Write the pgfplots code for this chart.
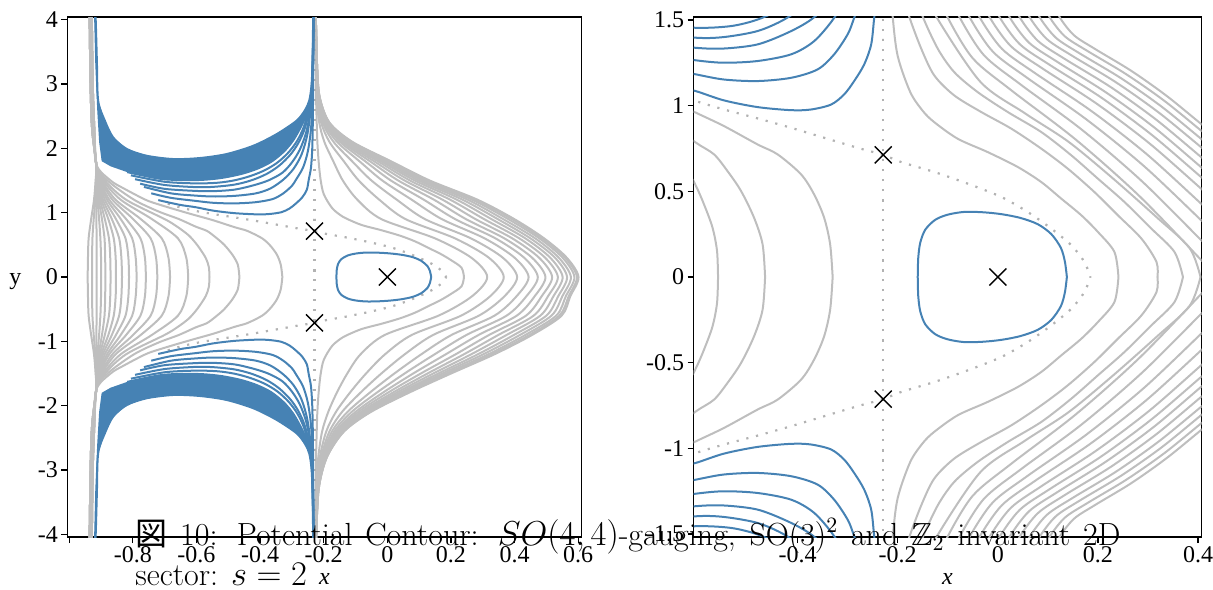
\documentclass[border=0pt]{standalone}
\usepackage{amssymb}
\usepackage{fontspec}
\usepackage{pgfplots}
\usepackage{pgfplotstable}
\pgfplotsset{compat=1.18}
\newfontfamily\tickfont{Liberation Serif}
\newfontfamily\cjk{Noto Sans CJK JP}
\definecolor{cgrey}{RGB}{190,190,190}
\definecolor{cblue}{RGB}{70,130,180}
\definecolor{cdot}{RGB}{178,178,178}
\newcommand{\symt}[2]{\addplot[#1] table {#2};\addplot[#1] table[y expr=-\thisrow{y}] {#2};}
\pgfplotsset{
 gline/.style={cgrey, line width=1pt, smooth, tension=0.5},
 bline/.style={cblue, line width=1pt, smooth, tension=0.5},
 dline/.style={cdot, line width=1.1pt, dash pattern=on 1.1pt off 3.9pt, smooth, tension=0.5},
 myaxis/.style={scale only axis, axis line style={line width=0.7pt}, tick align=outside,
  xtick pos=left, ytick pos=left, major tick length=3pt, tick style={black, line width=0.6pt},
  ticklabel style={font=\tickfont\fontsize{12}{14}\selectfont},
  xticklabel style={inner sep=1.5pt},
  yticklabel style={inner sep=1.5pt},
  /pgf/number format/assume math mode=true,
  every axis x label/.style={at={(axis description cs:0.5,0)}, anchor=base, yshift=-23.5pt, font=\tickfont\itshape\fontsize{12}{14}\selectfont},
  every axis y label/.style={at={(axis description cs:0,0.5)}, anchor=center, xshift=-26pt, yshift=-2.5pt, font=\tickfont\fontsize{12}{14}\selectfont}}
}
% ---------- left-family contour tables (upper half; lower half is mirrored) ----------
\pgfplotstableread[row sep=\\]{x y\\-0.942 0\\-0.941 0.3\\-0.939 0.6\\-0.931 0.9\\-0.922 1.2\\-0.917 1.5\\-0.915 1.75\\-0.928 2.3\\-0.933 3.0\\-0.936 4.1\\}\tCa
\pgfplotstableread[row sep=\\]{x y\\-0.928 0\\-0.928 0.3\\-0.927 0.6\\-0.923 0.9\\-0.918 1.2\\-0.916 1.5\\-0.915 1.75\\-0.928 2.3\\-0.933 3.0\\-0.936 4.1\\}\tCb
\pgfplotstableread[row sep=\\]{x y\\-0.914 0\\-0.914 0.6\\-0.915 1.2\\-0.915 1.75\\-0.928 2.3\\-0.933 3.0\\-0.936 4.1\\}\tCc
\pgfplotstableread[row sep=\\]{x y\\-0.900 0\\-0.900 0.3\\-0.902 0.6\\-0.906 0.9\\-0.911 1.2\\-0.914 1.5\\-0.915 1.75\\-0.928 2.3\\-0.933 3.0\\-0.936 4.1\\}\tCd
\pgfplotstableread[row sep=\\]{x y\\-0.886 0\\-0.887 0.3\\-0.889 0.6\\-0.897 0.9\\-0.907 1.2\\-0.913 1.5\\-0.915 1.75\\-0.928 2.3\\-0.933 3.0\\-0.936 4.1\\}\tCe
\pgfplotstableread[row sep=\\]{x y\\-0.870 0\\-0.871 0.3\\-0.875 0.6\\-0.888 0.9\\-0.903 1.2\\-0.912 1.5\\-0.915 1.75\\-0.928 2.3\\-0.933 3.0\\-0.936 4.1\\}\tCf
\pgfplotstableread[row sep=\\]{x y\\-0.853 0\\-0.854 0.3\\-0.860 0.6\\-0.877 0.9\\-0.899 1.2\\-0.910 1.5\\-0.915 1.75\\-0.925 2.3\\-0.930 3.0\\-0.933 4.1\\}\tCg
\pgfplotstableread[row sep=\\]{x y\\-0.834 0\\-0.836 0.3\\-0.843 0.6\\-0.866 0.9\\-0.894 1.2\\-0.909 1.5\\-0.915 1.75\\-0.925 2.3\\-0.930 3.0\\-0.933 4.1\\}\tCh
\pgfplotstableread[row sep=\\]{x y\\-0.812 0\\-0.814 0.3\\-0.823 0.6\\-0.853 0.9\\-0.888 1.2\\-0.907 1.5\\-0.915 1.75\\-0.925 2.3\\-0.930 3.0\\-0.933 4.1\\}\tCi
\pgfplotstableread[row sep=\\]{x y\\-0.788 0\\-0.791 0.3\\-0.802 0.6\\-0.838 0.9\\-0.881 1.2\\-0.905 1.5\\-0.915 1.75\\-0.925 2.3\\-0.930 3.0\\-0.933 4.1\\}\tCj
\pgfplotstableread[row sep=\\]{x y\\-0.759 0\\-0.762 0.3\\-0.776 0.6\\-0.821 0.9\\-0.874 1.2\\-0.903 1.5\\-0.915 1.75\\-0.925 2.3\\-0.930 3.0\\-0.933 4.1\\}\tCk
\pgfplotstableread[row sep=\\]{x y\\-0.723 0\\-0.727 0.3\\-0.744 0.6\\-0.799 0.9\\-0.864 1.2\\-0.900 1.5\\-0.915 1.75\\-0.925 2.3\\-0.930 3.0\\-0.933 4.1\\}\tCl
\pgfplotstableread[row sep=\\]{x y\\-0.683 0\\-0.688 0.3\\-0.709 0.6\\-0.775 0.9\\-0.854 1.2\\-0.897 1.5\\-0.915 1.75\\-0.921 2.3\\-0.926 3.0\\-0.929 4.1\\}\tCm
\pgfplotstableread[row sep=\\]{x y\\-0.626 0\\-0.632 0.3\\-0.658 0.6\\-0.740 0.9\\-0.838 1.2\\-0.893 1.5\\-0.915 1.75\\-0.921 2.3\\-0.926 3.0\\-0.929 4.1\\}\tCn
\pgfplotstableread[row sep=\\]{x y\\-0.559 0\\-0.561 0.152\\-0.570 0.288\\-0.587 0.424\\-0.603 0.531\\-0.625 0.65\\-0.660 0.78\\-0.700 0.9\\-0.821 1.2\\-0.888 1.5\\-0.915 1.75\\-0.921 2.3\\-0.926 3.0\\-0.929 4.1\\}\tCo
\pgfplotstableread[row sep=\\]{x y\\-0.465 0\\-0.470 0.191\\-0.487 0.346\\-0.513 0.502\\-0.540 0.618\\-0.567 0.716\\-0.603 0.784\\-0.655 0.9\\-0.720 1.02\\-0.796 1.2\\-0.880 1.5\\-0.915 1.75\\-0.921 2.3\\-0.926 3.0\\-0.929 4.1\\}\tCp
\pgfplotstableread[row sep=\\]{x y\\-0.330 0\\-0.335 0.191\\-0.347 0.346\\-0.367 0.482\\-0.393 0.599\\-0.440 0.716\\-0.480 0.774\\-0.547 0.881\\-0.603 0.959\\-0.660 1.04\\-0.720 1.13\\-0.760 1.2\\-0.830 1.38\\-0.870 1.5\\-0.915 1.75\\-0.921 2.3\\-0.926 3.0\\-0.929 4.1\\}\tCq
% ---------- blue contours ----------
\pgfplotstableread[row sep=\\]{x y\\-0.720 1.195\\-0.652 1.121\\-0.603 1.085\\-0.547 1.031\\-0.480 0.992\\-0.413 0.974\\-0.373 0.978\\-0.333 1.007\\-0.307 1.066\\-0.287 1.144\\-0.267 1.241\\-0.253 1.358\\-0.247 1.513\\-0.240 1.7\\-0.236 2.0\\-0.234 2.5\\-0.233 3.2\\-0.232 4.1\\}\tBa
\pgfplotstableread[row sep=\\]{x y\\-0.742 1.30\\-0.680 1.23\\-0.603 1.183\\-0.547 1.153\\-0.480 1.144\\-0.413 1.163\\-0.360 1.212\\-0.327 1.30\\-0.300 1.417\\-0.287 1.513\\-0.265 1.7\\-0.250 1.95\\-0.240 2.3\\-0.235 2.8\\-0.233 3.4\\-0.232 4.1\\}\tBb
\pgfplotstableread[row sep=\\]{x y\\-0.765 1.40\\-0.680 1.30\\-0.603 1.265\\-0.547 1.251\\-0.480 1.261\\-0.413 1.30\\-0.367 1.377\\-0.327 1.513\\-0.295 1.68\\-0.270 1.9\\-0.252 2.2\\-0.241 2.6\\-0.235 3.1\\-0.232 4.1\\}\tBc
\pgfplotstableread[row sep=\\]{x y\\-0.777 1.45\\-0.700 1.37\\-0.603 1.338\\-0.547 1.334\\-0.480 1.358\\-0.420 1.426\\-0.373 1.503\\-0.330 1.62\\-0.300 1.78\\-0.275 1.98\\-0.255 2.25\\-0.242 2.6\\-0.235 3.1\\-0.232 4.1\\}\tBd
\pgfplotstableread[row sep=\\]{x y\\-0.793 1.52\\-0.700 1.43\\-0.603 1.397\\-0.547 1.401\\-0.480 1.436\\-0.427 1.503\\-0.380 1.6\\-0.340 1.73\\-0.305 1.9\\-0.280 2.08\\-0.260 2.3\\-0.245 2.6\\-0.236 3.0\\-0.232 4.1\\}\tBe
\pgfplotstableread[row sep=\\]{x y\\-0.806 1.58\\-0.700 1.48\\-0.603 1.455\\-0.533 1.465\\-0.480 1.503\\-0.430 1.57\\-0.385 1.66\\-0.345 1.78\\-0.310 1.94\\-0.283 2.12\\-0.262 2.34\\-0.247 2.62\\-0.237 3.0\\-0.232 4.1\\}\tBf
\pgfplotstableread[row sep=\\]{x y\\-0.818 1.63\\-0.720 1.53\\-0.650 1.505\\-0.580 1.51\\-0.520 1.54\\-0.460 1.6\\-0.410 1.68\\-0.365 1.79\\-0.325 1.95\\-0.295 2.13\\-0.270 2.35\\-0.252 2.55\\-0.240 2.8\\-0.235 3.1\\-0.233 3.5\\-0.232 4.1\\}\tBg
\pgfplotstableread[row sep=\\]{x y\\-0.920 4.1\\-0.917 4.04\\-0.913 3.36\\-0.909 2.74\\-0.888 2.43\\-0.862 2.17\\-0.819 1.99\\-0.757 1.885\\-0.673 1.833\\-0.589 1.849\\-0.505 1.911\\-0.421 2.04\\-0.348 2.22\\-0.285 2.43\\-0.258 2.6\\-0.245 2.75\\-0.238 3.0\\-0.235 3.4\\-0.233 4.1\\}\tU
\pgfplotstableread[row sep=\\]{x y\\-0.920 4.1\\-0.917 4.04\\-0.913 3.36\\-0.909 2.74\\-0.888 2.43\\-0.862 2.17\\-0.819 1.99\\-0.757 1.885\\-0.673 1.833\\-0.589 1.849\\-0.505 1.911\\-0.421 2.04\\-0.348 2.22\\-0.285 2.43\\-0.258 2.6\\-0.245 2.75\\-0.238 3.0\\-0.235 3.4\\-0.233 4.1\\-0.232 4.1\\-0.233 3.5\\-0.235 3.1\\-0.240 2.8\\-0.252 2.55\\-0.270 2.35\\-0.295 2.13\\-0.325 1.95\\-0.365 1.79\\-0.410 1.68\\-0.460 1.6\\-0.520 1.54\\-0.580 1.51\\-0.650 1.505\\-0.720 1.53\\-0.818 1.63\\-0.870 1.72\\-0.898 1.80\\-0.906 2.1\\-0.912 2.6\\-0.918 3.3\\-0.922 4.1\\}\tFill
\pgfplotstableread[row sep=\\]{x y\\0.138 0\\0.134 0.09\\0.126 0.170\\0.107 0.250\\0.080 0.308\\0.045 0.345\\0.007 0.367\\-0.030 0.378\\-0.067 0.380\\-0.100 0.364\\-0.125 0.334\\-0.145 0.276\\-0.155 0.200\\-0.159 0.110\\-0.160 0\\}\tLoop
\pgfplotstableread[row sep=\\]{x y\\-0.690 1.14\\-0.650 1.08\\-0.603 1.027\\-0.547 0.978\\-0.480 0.926\\-0.413 0.871\\-0.347 0.813\\-0.280 0.754\\-0.229 0.713\\-0.193 0.671\\-0.127 0.613\\-0.060 0.545\\0.007 0.467\\0.060 0.379\\0.107 0.282\\0.147 0.185\\0.173 0.088\\0.185 0\\}\tDot
% ---------- right-hand grey contours ----------
\pgfplotstableread[row sep=\\]{x y\\0.241 0\\0.233 0.146\\0.200 0.263\\0.167 0.360\\0.127 0.457\\0.087 0.554\\0.040 0.642\\-0.020 0.729\\-0.080 0.807\\-0.127 0.904\\-0.150 0.970\\-0.175 1.08\\-0.200 1.29\\-0.210 1.52\\-0.216 1.8\\-0.220 2.1\\-0.222 2.4\\-0.224 2.8\\-0.225 3.3\\-0.226 4.1\\}\tGa
\pgfplotstableread[row sep=\\]{x y\\0.319 0\\0.317 0.088\\0.287 0.224\\0.240 0.360\\0.193 0.496\\0.140 0.632\\0.087 0.749\\0.027 0.866\\-0.033 0.963\\-0.087 1.060\\-0.127 1.177\\-0.153 1.333\\-0.177 1.520\\-0.183 1.6\\}\tGb
\pgfplotstableread[row sep=\\]{x y\\0.370 0\\0.353 0.146\\0.307 0.282\\0.253 0.438\\0.200 0.574\\0.147 0.710\\0.087 0.846\\0.020 0.963\\-0.040 1.079\\-0.087 1.196\\-0.120 1.333\\-0.150 1.520\\-0.156 1.6\\}\tGc
\pgfplotstableread[row sep=\\]{x y\\0.405 0\\0.383 0.170\\0.317 0.350\\0.229 0.578\\0.141 0.790\\0.053 0.958\\-0.035 1.140\\-0.123 1.520\\-0.129 1.6\\}\tGd
\pgfplotstableread[row sep=\\]{x y\\0.420 0.055\\0.410 0.088\\0.282 0.475\\0.155 0.804\\0.027 1.090\\-0.050 1.277\\-0.101 1.520\\-0.107 1.6\\}\tGe
\pgfplotstableread[row sep=\\]{x y\\0.420 0.175\\0.410 0.204\\0.288 0.559\\0.167 0.862\\0.045 1.125\\-0.028 1.296\\-0.077 1.520\\-0.083 1.6\\}\tGf
\pgfplotstableread[row sep=\\]{x y\\0.420 0.295\\0.410 0.321\\0.293 0.645\\0.177 0.920\\0.060 1.160\\-0.010 1.316\\-0.057 1.520\\-0.063 1.6\\}\tGg
\pgfplotstableread[row sep=\\]{x y\\0.420 0.394\\0.410 0.418\\0.298 0.716\\0.187 0.969\\0.075 1.189\\0.008 1.333\\-0.037 1.520\\-0.043 1.6\\}\tGh
\pgfplotstableread[row sep=\\]{x y\\0.420 0.484\\0.410 0.506\\0.303 0.780\\0.197 1.013\\0.090 1.216\\0.026 1.348\\-0.017 1.520\\-0.023 1.6\\}\tGi
\pgfplotstableread[row sep=\\]{x y\\0.420 0.553\\0.410 0.574\\0.308 0.829\\0.207 1.047\\0.105 1.236\\0.044 1.359\\0.003 1.520\\-0.003 1.6\\}\tGj
\pgfplotstableread[row sep=\\]{x y\\0.420 0.612\\0.410 0.632\\0.313 0.872\\0.217 1.076\\0.120 1.254\\0.062 1.369\\0.023 1.520\\0.017 1.6\\}\tGk
\pgfplotstableread[row sep=\\]{x y\\0.420 0.672\\0.410 0.691\\0.318 0.915\\0.227 1.106\\0.135 1.271\\0.080 1.379\\0.043 1.520\\0.037 1.6\\}\tGl
\pgfplotstableread[row sep=\\]{x y\\0.420 0.731\\0.410 0.749\\0.323 0.957\\0.237 1.135\\0.150 1.289\\0.098 1.389\\0.063 1.520\\0.057 1.6\\}\tGm
\pgfplotstableread[row sep=\\]{x y\\0.420 0.781\\0.410 0.798\\0.328 0.993\\0.247 1.159\\0.165 1.303\\0.116 1.397\\0.083 1.520\\0.077 1.6\\}\tGn
\pgfplotstableread[row sep=\\]{x y\\0.420 0.830\\0.410 0.846\\0.333 1.028\\0.257 1.183\\0.180 1.318\\0.134 1.405\\0.103 1.520\\0.097 1.6\\}\tGo
\pgfplotstableread[row sep=\\]{x y\\0.420 0.870\\0.410 0.885\\0.338 1.056\\0.267 1.203\\0.195 1.330\\0.152 1.412\\0.123 1.520\\0.117 1.6\\}\tGp
\begin{document}
\begin{tikzpicture}
\path[use as bounding box] (0pt,0pt) rectangle (606.5pt,-294.5pt);
% ================= LEFT PANEL =================
\begin{axis}[myaxis, at={(33.65pt,-268.5pt)}, anchor=south west, width=257.2pt, height=260pt,
 xmin=-1.006, xmax=0.611, ymin=-4.04, ymax=4.04,
 xtick={-1,-0.8,-0.6,-0.4,-0.2,0,0.2,0.4,0.6}, xticklabels={,-0.8,-0.6,-0.4,-0.2,0,0.2,0.4,0.6},
 ytick={-4,-3,-2,-1,0,1,2,3,4}, yticklabels={-4,-3,-2,-1,0,1,2,3,4},
 xlabel={x}, ylabel={y}]
\symt{gline}{\tCa}\symt{gline}{\tCb}\symt{gline}{\tCc}\symt{gline}{\tCd}\symt{gline}{\tCe}
\symt{gline}{\tCf}\symt{gline}{\tCg}\symt{gline}{\tCh}\symt{gline}{\tCi}\symt{gline}{\tCj}
\symt{gline}{\tCk}\symt{gline}{\tCl}\symt{gline}{\tCm}\symt{gline}{\tCn}\symt{gline}{\tCo}
\symt{gline}{\tCp}\symt{gline}{\tCq}
\symt{gline}{\tGa}
\addplot[gline] coordinates {(-0.226,4.1)(-0.224,3.3)(-0.222,2.8)(-0.214,2.4)(-0.198,2.1)(-0.170,1.8)(-0.140,1.5)(-0.094,1.2)(-0.019,0.9)(0.150,0.6)(0.264,0.3)(0.314,0)(0.266,-0.3)(0.161,-0.6)(-0.008,-0.9)(-0.084,-1.2)(-0.126,-1.5)(-0.159,-1.8)(-0.186,-2.1)(-0.205,-2.4)(-0.217,-2.8)(-0.223,-3.3)(-0.226,-4.1)};
\addplot[gline] coordinates {(-0.226,4.1)(-0.224,3.3)(-0.220,2.8)(-0.208,2.4)(-0.182,2.1)(-0.137,1.8)(-0.090,1.5)(-0.025,1.2)(0.057,0.9)(0.213,0.6)(0.319,0.3)(0.366,0)(0.323,-0.3)(0.232,-0.6)(0.077,-0.9)(-0.007,-1.2)(-0.067,-1.5)(-0.118,-1.8)(-0.162,-2.1)(-0.192,-2.4)(-0.212,-2.8)(-0.222,-3.3)(-0.225,-4.1)};
\addplot[gline] coordinates {(-0.226,4.1)(-0.223,3.3)(-0.219,2.8)(-0.203,2.4)(-0.169,2.1)(-0.111,1.8)(-0.050,1.5)(0.030,1.2)(0.118,0.9)(0.263,0.6)(0.363,0.3)(0.408,0)(0.368,-0.3)(0.288,-0.6)(0.144,-0.9)(0.055,-1.2)(-0.019,-1.5)(-0.085,-1.8)(-0.143,-2.1)(-0.182,-2.4)(-0.208,-2.8)(-0.221,-3.3)(-0.225,-4.1)};
\addplot[gline] coordinates {(-0.225,4.1)(-0.223,3.3)(-0.218,2.8)(-0.199,2.4)(-0.158,2.1)(-0.088,1.8)(-0.016,1.5)(0.077,1.2)(0.171,0.9)(0.306,0.6)(0.400,0.3)(0.444,0)(0.406,-0.3)(0.337,-0.6)(0.202,-0.9)(0.107,-1.2)(0.022,-1.5)(-0.056,-1.8)(-0.126,-2.1)(-0.174,-2.4)(-0.205,-2.8)(-0.220,-3.3)(-0.225,-4.1)};
\addplot[gline] coordinates {(-0.225,4.1)(-0.222,3.3)(-0.217,2.8)(-0.196,2.4)(-0.149,2.1)(-0.070,1.8)(0.011,1.5)(0.115,1.2)(0.213,0.9)(0.340,0.6)(0.430,0.3)(0.473,0)(0.437,-0.3)(0.375,-0.6)(0.249,-0.9)(0.149,-1.2)(0.054,-1.5)(-0.034,-1.8)(-0.113,-2.1)(-0.167,-2.4)(-0.202,-2.8)(-0.219,-3.3)(-0.225,-4.1)};
\addplot[gline] coordinates {(-0.225,4.1)(-0.222,3.3)(-0.216,2.8)(-0.194,2.4)(-0.142,2.1)(-0.055,1.8)(0.034,1.5)(0.147,1.2)(0.247,0.9)(0.368,0.6)(0.455,0.3)(0.497,0)(0.463,-0.3)(0.407,-0.6)(0.287,-0.9)(0.184,-1.2)(0.081,-1.5)(-0.015,-1.8)(-0.101,-2.1)(-0.161,-2.4)(-0.200,-2.8)(-0.219,-3.3)(-0.225,-4.1)};
\addplot[gline] coordinates {(-0.225,4.1)(-0.222,3.3)(-0.216,2.8)(-0.191,2.4)(-0.136,2.1)(-0.042,1.8)(0.054,1.5)(0.174,1.2)(0.277,0.9)(0.393,0.6)(0.477,0.3)(0.518,0)(0.485,-0.3)(0.436,-0.6)(0.320,-0.9)(0.215,-1.2)(0.105,-1.5)(0.001,-1.8)(-0.092,-2.1)(-0.156,-2.4)(-0.198,-2.8)(-0.218,-3.3)(-0.224,-4.1)};
\addplot[gline] coordinates {(-0.225,4.1)(-0.222,3.3)(-0.215,2.8)(-0.189,2.4)(-0.130,2.1)(-0.030,1.8)(0.071,1.5)(0.198,1.2)(0.304,0.9)(0.415,0.6)(0.496,0.3)(0.536,0)(0.505,-0.3)(0.460,-0.6)(0.349,-0.9)(0.241,-1.2)(0.126,-1.5)(0.016,-1.8)(-0.083,-2.1)(-0.152,-2.4)(-0.196,-2.8)(-0.218,-3.3)(-0.224,-4.1)};
\addplot[gline] coordinates {(-0.225,4.1)(-0.222,3.3)(-0.215,2.8)(-0.188,2.4)(-0.125,2.1)(-0.020,1.8)(0.086,1.5)(0.219,1.2)(0.327,0.9)(0.434,0.6)(0.512,0.3)(0.551,0)(0.522,-0.3)(0.481,-0.6)(0.375,-0.9)(0.264,-1.2)(0.144,-1.5)(0.028,-1.8)(-0.076,-2.1)(-0.148,-2.4)(-0.195,-2.8)(-0.217,-3.3)(-0.224,-4.1)};
\addplot[gline] coordinates {(-0.225,4.1)(-0.221,3.3)(-0.214,2.8)(-0.186,2.4)(-0.121,2.1)(-0.012,1.8)(0.099,1.5)(0.237,1.2)(0.347,0.9)(0.450,0.6)(0.527,0.3)(0.565,0)(0.537,-0.3)(0.500,-0.6)(0.398,-0.9)(0.285,-1.2)(0.160,-1.5)(0.039,-1.8)(-0.070,-2.1)(-0.145,-2.4)(-0.193,-2.8)(-0.217,-3.3)(-0.224,-4.1)};
\addplot[gline] coordinates {(-0.225,4.1)(-0.221,3.3)(-0.214,2.8)(-0.185,2.4)(-0.117,2.1)(-0.004,1.8)(0.110,1.5)(0.253,1.2)(0.364,0.9)(0.465,0.6)(0.539,0.3)(0.577,0)(0.550,-0.3)(0.516,-0.6)(0.417,-0.9)(0.302,-1.2)(0.173,-1.5)(0.048,-1.8)(-0.064,-2.1)(-0.142,-2.4)(-0.192,-2.8)(-0.217,-3.3)(-0.224,-4.1)};
\addplot[gline] coordinates {(-0.225,4.1)(-0.221,3.3)(-0.213,2.8)(-0.183,2.4)(-0.114,2.1)(0.003,1.8)(0.121,1.5)(0.267,1.2)(0.380,0.9)(0.478,0.6)(0.551,0.3)(0.588,0)(0.561,-0.3)(0.531,-0.6)(0.434,-0.9)(0.318,-1.2)(0.185,-1.5)(0.057,-1.8)(-0.059,-2.1)(-0.139,-2.4)(-0.191,-2.8)(-0.216,-3.3)(-0.224,-4.1)};
\addplot[gline] coordinates {(-0.225,4.1)(-0.221,3.3)(-0.213,2.8)(-0.183,2.4)(-0.112,2.1)(0.008,1.8)(0.128,1.5)(0.277,1.2)(0.392,0.9)(0.487,0.6)(0.559,0.3)(0.596,0)(0.570,-0.3)(0.541,-0.6)(0.447,-0.9)(0.330,-1.2)(0.194,-1.5)(0.063,-1.8)(-0.055,-2.1)(-0.137,-2.4)(-0.190,-2.8)(-0.216,-3.3)(-0.224,-4.1)};
\addplot[gline] coordinates {(-0.225,4.1)(-0.221,3.3)(-0.213,2.8)(-0.182,2.4)(-0.110,2.1)(0.011,1.8)(0.133,1.5)(0.284,1.2)(0.399,0.9)(0.493,0.6)(0.564,0.3)(0.601,0)(0.575,-0.3)(0.548,-0.6)(0.455,-0.9)(0.337,-1.2)(0.200,-1.5)(0.067,-1.8)(-0.053,-2.1)(-0.136,-2.4)(-0.190,-2.8)(-0.216,-3.3)(-0.224,-4.1)};
\addplot[dline] coordinates {(-0.229,-4.1)(-0.229,4.1)};
\symt{dline}{\tDot}
\addplot[fill=cblue, draw=none] table {\tFill};
\addplot[fill=cblue, draw=none] table[y expr=-\thisrow{y}] {\tFill};
\symt{bline}{\tU}
\symt{bline}{\tBg}\symt{bline}{\tBf}\symt{bline}{\tBe}\symt{bline}{\tBd}
\symt{bline}{\tBc}\symt{bline}{\tBb}\symt{bline}{\tBa}
\symt{bline}{\tLoop}
\addplot[only marks, mark=x, mark size=6pt, black, line width=0.7pt] coordinates {(0,0) (-0.229,0.713) (-0.229,-0.713)};
\end{axis}
% ================= RIGHT PANEL =================
\begin{axis}[myaxis, at={(346.75pt,-268.5pt)}, anchor=south west, width=254pt, height=260pt,
 xmin=-0.608, xmax=0.407, ymin=-1.518, ymax=1.518,
 xtick={-0.4,-0.2,0,0.2,0.4}, xticklabels={-0.4,-0.2,0,0.2,0.4},
 ytick={-1.5,-1,-0.5,0,0.5,1,1.5}, yticklabels={-1.5,-1,-0.5,0,0.5,1,1.5},
 xlabel={x}]
\symt{gline}{\tCo}\symt{gline}{\tCp}\symt{gline}{\tCq}
\symt{gline}{\tGa}\symt{gline}{\tGb}\symt{gline}{\tGc}\symt{gline}{\tGd}
\symt{gline}{\tGe}\symt{gline}{\tGf}\symt{gline}{\tGg}\symt{gline}{\tGh}
\symt{gline}{\tGi}\symt{gline}{\tGj}\symt{gline}{\tGk}\symt{gline}{\tGl}
\symt{gline}{\tGm}\symt{gline}{\tGn}\symt{gline}{\tGo}\symt{gline}{\tGp}
\addplot[dline] coordinates {(-0.229,-1.6)(-0.229,1.6)};
\symt{dline}{\tDot}
\symt{bline}{\tBf}\symt{bline}{\tBe}\symt{bline}{\tBd}
\symt{bline}{\tBc}\symt{bline}{\tBb}\symt{bline}{\tBa}
\symt{bline}{\tLoop}
\addplot[only marks, mark=x, mark size=6pt, black, line width=0.7pt] coordinates {(0,0) (-0.229,0.713) (-0.229,-0.713)};
\end{axis}
% ================= caption overlay =================
\node[anchor=base west, inner sep=0pt, font=\fontsize{16}{20}\selectfont] at (67.5pt,-272.5pt)
 {\makebox[492.5pt][s]{{\cjk 図} 10: Potential Contour: $SO(4,4)$-gauging, SO(3)$^2$ and $\mathbb{Z}_2$ invariant 2D}};
\node[anchor=base west, inner sep=0pt, font=\fontsize{16}{20}\selectfont] at (67.5pt,-292.8pt)
 {sector: $s = 2$};
\end{tikzpicture}
\end{document}
